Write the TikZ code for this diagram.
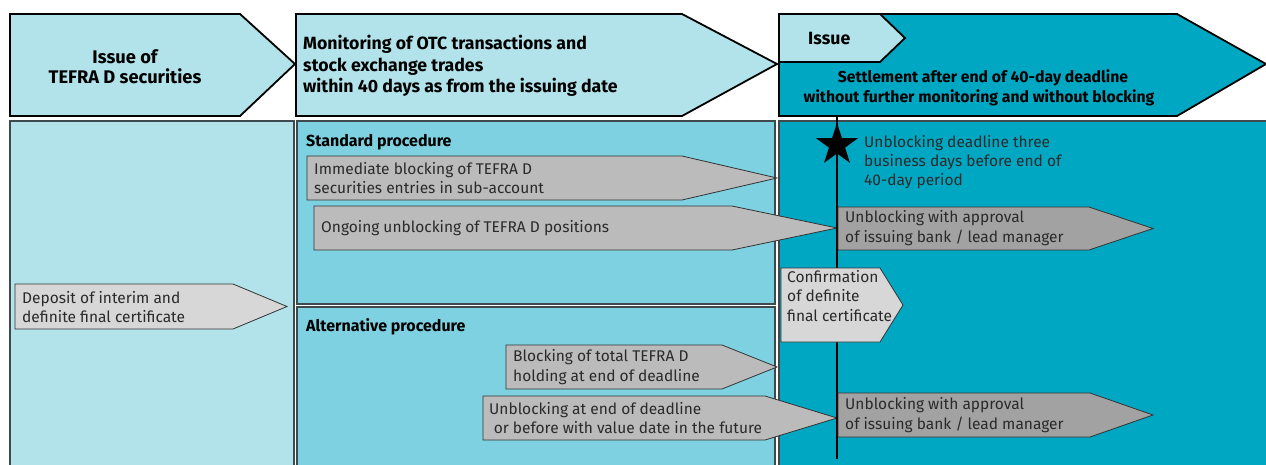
\documentclass[tikz,border=0pt]{standalone}
\usepackage{fontspec}
\setmainfont{Fira Sans}
\usetikzlibrary{shapes.geometric}
\definecolor{lightc}{HTML}{B2E3EA}
\definecolor{midc}{HTML}{7DD1E0}
\definecolor{tealc}{HTML}{00A7C2}
\definecolor{grayA}{HTML}{BBBBBB}
\definecolor{grayB}{HTML}{A2A2A2}
\definecolor{grayC}{HTML}{D7D7D7}
\definecolor{txtc}{HTML}{2A2A2A}
\definecolor{panelline}{HTML}{3F4A4C}
\newcommand\pentarrow[6]{%
  \draw[#1] (#2,#3) -- (#4,#3) -- (#5,{(#3+#6)/2}) -- (#4,#6) -- (#2,#6) -- cycle;}
\tikzset{
  headbox/.style={draw=black, line width=1.8pt, line join=miter},
  panel/.style={draw=panelline, line width=1.2pt},
  garrow/.style={draw=black!80, line width=0.8pt, line join=miter},
  hbold/.style={inner sep=0pt, font=\fontsize{16}{21}\selectfont\bfseries, text=black},
  ntext/.style={inner sep=0pt, font=\fontsize{15.5}{19.3}\selectfont, text=txtc, align=left, anchor=west},
}
\begin{document}
\begin{tikzpicture}[x=1pt,y=-1pt]
\useasboundingbox (0,0) rectangle (1266,464);
% body panels
\draw[panel, fill=lightc] (10,121) rectangle (294,468);
\draw[panel, fill=midc] (297,121) rectangle (775,304);
\draw[panel, fill=midc] (297,307) rectangle (775,468);
\draw[panel, fill=tealc] (779,121) rectangle (1270,468);
% header arrows
\draw[headbox, fill=lightc] (10,14) -- (240,14) -- (295,64) -- (240,116) -- (10,116) -- cycle;
\draw[headbox, fill=lightc] (296,14) -- (682,14) -- (777,64) -- (682,116) -- (296,116) -- cycle;
\draw[headbox, fill=tealc] (779,14) -- (1177,14) -- (1266,64) -- (1177,116) -- (779,116) -- cycle;
\draw[headbox, fill=lightc] (779,14) -- (880,14) -- (905,38) -- (880,62) -- (779,62) -- cycle;
\node[hbold, align=center, font=\fontsize{18.3}{20}\selectfont\bfseries] (h1t) at (125,67) {Issue of\\TEFRA D securities};
\node[hbold, align=left, anchor=west, font=\fontsize{17.7}{21.5}\selectfont\bfseries] (h2t) at (303,66) {Monitoring of OTC transactions and\\stock exchange trades\\within 40 days as from the issuing date};
\node[hbold, anchor=west, font=\fontsize{17.7}{21}\selectfont\bfseries] (issue) at (808,39) {Issue};
\node[hbold, align=center, font=\fontsize{15.8}{19.5}\selectfont\bfseries] (h3t) at (979,88) {\hspace*{8pt}Settlement after end of 40-day deadline\\without further monitoring and without blocking};
\node[hbold, anchor=west] (std) at (306,142) {Standard procedure};
\node[hbold, anchor=west] (alt) at (306,327) {Alternative procedure};
% grey arrows
\pentarrow{garrow, fill=grayC}{15}{284}{233}{287}{329}
\node[ntext] (dep) at (22,307) {Deposit of interim and\\definite final certificate};
\pentarrow{garrow, fill=grayA}{307}{156}{682}{777}{200}
\node[ntext] (a1) at (314,178) {Immediate blocking of TEFRA D\\securities entries in sub-account};
\pentarrow{garrow, fill=grayA}{314}{206}{732}{837}{250}
\node[ntext] (a2) at (321,228) {Ongoing unblocking of TEFRA D positions};
\pentarrow{garrow, fill=grayA}{506}{345}{722}{777}{389}
\node[ntext] (a6) at (513,367) {Blocking of total TEFRA D\\holding at end of deadline};
\pentarrow{garrow, fill=grayA}{483}{396}{765}{837}{440}
\node[ntext] (a7) at (489,418) {Unblocking at end of deadline\\\hspace{0.3em}or before with value date in the future};
% vertical line
\coordinate (vtop) at (837,116);
\coordinate (vbot) at (837,459);
\draw[line width=2.6pt] (vtop) -- (vbot);
\node[star, star points=5, star point ratio=2.6, fill=black, minimum size=44pt, inner sep=0pt] (star) at (837,145) {};
\node[ntext] (st) at (864,162) {Unblocking deadline three\\business days before end of\\40-day period};
\pentarrow{garrow, fill=grayB}{838}{207}{1089}{1153}{250}
\node[ntext] (a3) at (845,228) {Unblocking with approval\\of issuing bank / lead manager};
\pentarrow{garrow, fill=grayC}{781}{268}{880}{903}{342}
\node[ntext] (conf) at (787,296) {Confirmation\\of definite\\final certificate};
\pentarrow{garrow, fill=grayB}{838}{393}{1090}{1153}{437}
\node[ntext] (a8) at (845,415) {Unblocking with approval\\of issuing bank / lead manager};
\end{tikzpicture}
\end{document}
